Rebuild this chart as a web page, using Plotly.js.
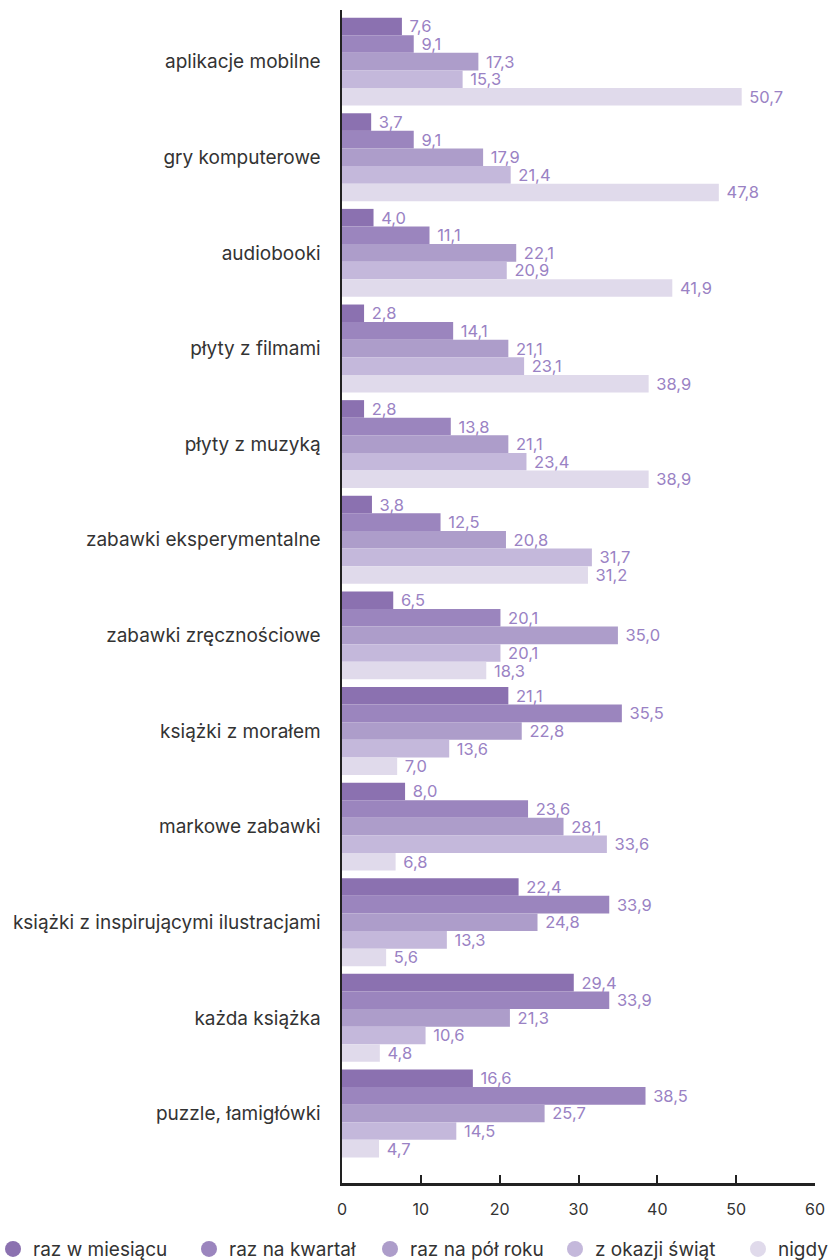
<!DOCTYPE html>
<html><head><meta charset="utf-8">
<script src="https://cdn.plot.ly/plotly-3.0.1.min.js"></script>
<style>html,body{margin:0;padding:0;background:#fff}</style>
</head><body>
<div id="chart" style="width:834px;height:1260px"></div>
<script>
const categories = ["aplikacje mobilne","gry komputerowe","audiobooki","płyty z filmami","płyty z muzyką","zabawki eksperymentalne","zabawki zręcznościowe","książki z morałem","markowe zabawki","książki z inspirującymi ilustracjami","każda książka","puzzle, łamigłówki"];
const seriesNames = ["raz w miesiącu","raz na kwartał","raz na pół roku","z okazji świąt","nigdy"];
const razWMiesiacu = [7.6,3.7,4.0,2.8,2.8,3.8,6.5,21.1,8.0,22.4,29.4,16.6];
const razNaKwartal = [9.1,9.1,11.1,14.1,13.8,12.5,20.1,35.5,23.6,33.9,33.9,38.5];
const razNaPolRoku = [17.3,17.9,22.1,21.1,21.1,20.8,35.0,22.8,28.1,24.8,21.3,25.7];
const zOkazjiSwiat = [15.3,21.4,20.9,23.1,23.4,31.7,20.1,13.6,33.6,13.3,10.6,14.5];
const nigdy = [50.7,47.8,41.9,38.9,38.9,31.2,18.3,7.0,6.8,5.6,4.8,4.7];
const xTicks = [0,10,20,30,40,50,60];

const values = [razWMiesiacu,razNaKwartal,razNaPolRoku,zOkazjiSwiat,nigdy];
const colors = ["#8b71b0","#9b85be","#ad9dca","#c4b8db","#e0daeb"];
const legendX = [-0.7378,-0.3235,0.0592,0.4503,0.8372];
const legendIds = ['legend','legend2','legend3','legend4','legend5'];

const traces = [];
values.forEach((v,i)=>{
  traces.push({
    type:'bar', orientation:'h', name:seriesNames[i],
    y:categories, x:v,
    marker:{color:colors[i]},
    texttemplate:' %{x:.1f}', textposition:'outside',
    textfont:{family:'Inter, sans-serif', size:16.5, color:'#9a82c4'},
    constraintext:'none', cliponaxis:false,
    showlegend:false, hoverinfo:'skip'
  });
});
values.forEach((v,i)=>{
  traces.push({
    type:'scatter', mode:'markers', name:seriesNames[i],
    x:[null], y:[null],
    marker:{color:colors[i], size:20, symbol:'circle'},
    showlegend:true, legend:legendIds[i]
  });
});

const layout = {
  width:834, height:1260,
  margin:{l:342, r:19, t:10, b:77, autoexpand:false},
  paper_bgcolor:'#fff', plot_bgcolor:'#fff',
  separators:', ',
  barmode:'group', bargap:0.08, bargroupgap:0,
  font:{family:'Inter, sans-serif', color:'#333'},
  xaxis:{
    range:[0,60], tickvals:xTicks, ticktext:xTicks.map(String),
    showgrid:false, zeroline:false, automargin:false,
    showline:true, linecolor:'#222', linewidth:2.5,
    ticks:'inside', ticklen:8, tickwidth:2, tickcolor:'#222',
    tickfont:{size:16, color:'#333'}, ticklabelstandoff:10
  },
  yaxis:{
    type:'category', range:[11.727,-0.54], automargin:false,
    showgrid:false, zeroline:false,
    showline:true, linecolor:'#222', linewidth:2.5,
    ticks:'', tickfont:{size:19, color:'#333'}, ticklabelstandoff:15
  },
  showlegend:true
};
legendIds.forEach((id,i)=>{
  layout[id] = {orientation:'h', x:legendX[i], xanchor:'left', y:-0.0563, yanchor:'middle',
    font:{size:19, color:'#333'}, bgcolor:'rgba(0,0,0,0)'};
});
Plotly.newPlot('chart', traces, layout, {staticPlot:true});
</script>
</body></html>
